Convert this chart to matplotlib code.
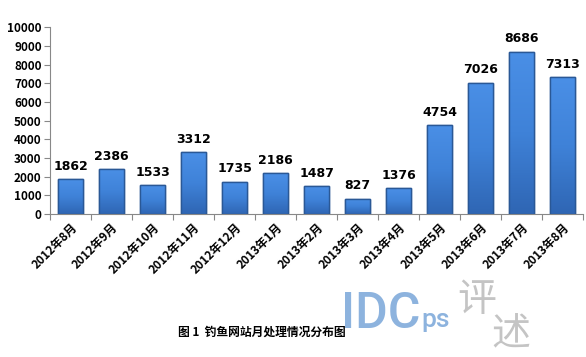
import numpy as np
import matplotlib.pyplot as plt
from matplotlib.colors import LinearSegmentedColormap

plt.rcParams['font.family'] = ['Noto Sans CJK SC', 'DejaVu Sans']

months = ['2012年8月', '2012年9月', '2012年10月', '2012年11月', '2012年12月',
          '2013年1月', '2013年2月', '2013年3月', '2013年4月', '2013年5月',
          '2013年6月', '2013年7月', '2013年8月']
counts = [1862, 2386, 1533, 3312, 1735, 2186, 1487, 827, 1376, 4754, 7026, 8686, 7313]
yticks = [0, 1000, 2000, 3000, 4000, 5000, 6000, 7000, 8000, 9000, 10000]

fig = plt.figure(figsize=(5.86, 3.57), dpi=100)
ax = fig.add_axes([0.0853, 0.4006, 0.9097, 0.5234])

x = np.arange(len(months))
bars = ax.bar(x, counts, width=0.63, color='#3b7bd0', edgecolor='#2a5896', linewidth=1.0, zorder=2)

# vertical gradient inside each bar (light top, darker bottom)
cmap = LinearSegmentedColormap.from_list('barfade', ['#2f66b4', '#3f82d8', '#4a8fe6'])
grad = np.linspace(0, 1, 100).reshape(-1, 1)
for b in bars:
    x0, w, h = b.get_x(), b.get_width(), b.get_height()
    im = ax.imshow(grad, extent=[x0, x0 + w, 0, h], origin='lower', cmap=cmap,
                   aspect='auto', zorder=2.5)
    im.set_clip_path(b)
    ax.bar(x0 + w / 2, h, width=w, fill=False, edgecolor='#2a5896', linewidth=1.0, zorder=3)

for xi, v in zip(x, counts):
    ax.text(xi, v + 340, str(v), ha='center', va='bottom', fontsize=9,
            fontweight='bold', family='DejaVu Sans')

ax.set_xlim(-0.5, len(months) - 0.5)
ax.set_ylim(0, 10000)
ax.set_yticks(yticks)
ax.set_yticklabels([str(t) for t in yticks], fontsize=8.5, fontweight='bold')
ax.set_xticks(np.arange(len(months) + 1) - 0.5, minor=False)
ax.set_xticklabels([])
ax.set_xticks(x, minor=True)
ax.set_xticklabels(months, minor=True, rotation=45, ha='right', rotation_mode='anchor',
                   fontsize=8.5, fontweight='bold')
ax.tick_params(axis='x', which='minor', length=0, pad=5)
ax.tick_params(axis='x', which='major', length=4, color='#888888')
ax.tick_params(axis='y', length=4, color='#888888', pad=2)

for s in ['top', 'right']:
    ax.spines[s].set_visible(False)
ax.spines['left'].set_color('#888888')
ax.spines['bottom'].set_color('#888888')

fig.text(0.447, 0.07, '图 1  钓鱼网站月处理情况分布图', ha='center', va='center',
         fontsize=8.5, fontweight='bold')

# watermark
fig.text(0.582, 0.08, 'IDC', fontsize=36, color='#8db3de', family='Roboto',
         fontweight='medium')
fig.text(0.719, 0.085, 'ps', fontsize=19, color='#8db3de', family='Roboto',
         fontweight='medium')
fig.text(0.78, 0.13, '评', fontsize=28, color='#c4c4c4')
fig.text(0.838, 0.035, '述', fontsize=28, color='#c4c4c4')

fig.savefig('out.png', dpi=100)
